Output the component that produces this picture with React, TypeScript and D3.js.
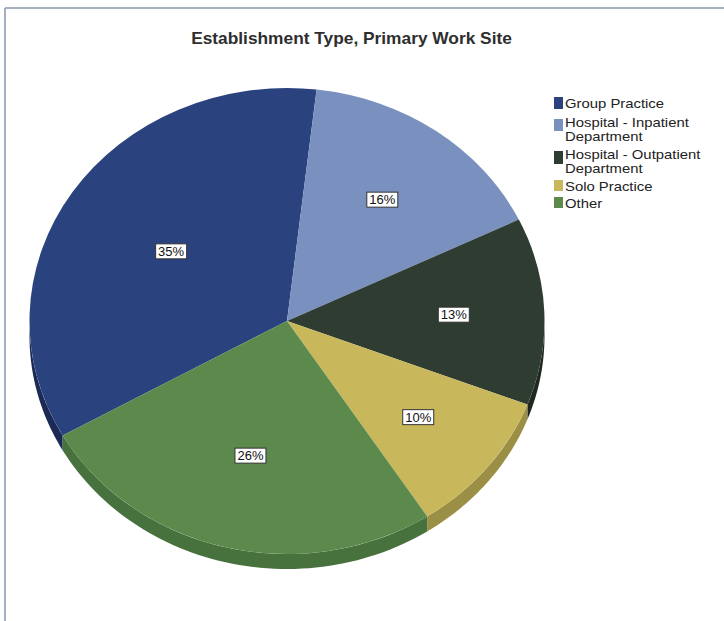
import React from "react";
import * as d3 from "d3";

const categories = [
  "Group Practice",
  "Hospital - Inpatient Department",
  "Hospital - Outpatient Department",
  "Solo Practice",
  "Other",
];
const values = [35, 16, 13, 10, 26];
const legendLines = [
  ["Group Practice"],
  ["Hospital - Inpatient", "Department"],
  ["Hospital - Outpatient", "Department"],
  ["Solo Practice"],
  ["Other"],
];
const topColors = ["#2a437f", "#7a91c0", "#2f3c31", "#c9b75c", "#5b8a4c"];
const sideColors = ["#1b2a55", "#5a6f98", "#1f2821", "#9a8f45", "#48723d"];
const title = "Establishment Type, Primary Work Site";

const W = 724;
const H = 621;
const cx = 287;
const cy = 321;
const rx = 257.5;
const ry = 233;
const depth = 15;
const startDeg = -119.4;

export default function App() {
  const total = d3.sum(values);
  const start = (startDeg * Math.PI) / 180;
  const pie = d3
    .pie<number>()
    .sort(null)
    .value((d) => d)
    .startAngle(start)
    .endAngle(start + 2 * Math.PI);
  const arcs = pie(values);
  const arcGen = d3.arc<d3.PieArcDatum<number>>().innerRadius(0).outerRadius(rx);

  const pt = (a: number, dy = 0): [number, number] => [
    cx + rx * Math.sin(a),
    cy - ry * Math.cos(a) + dy,
  ];
  const line = d3.line();

  const sides: { d: string; color: string }[] = [];
  arcs.forEach((a, i) => {
    for (const shift of [-2 * Math.PI, 0, 2 * Math.PI]) {
      const s = Math.max(a.startAngle + shift, Math.PI / 2);
      const e = Math.min(a.endAngle + shift, (3 * Math.PI) / 2);
      if (e > s) {
        const n = 60;
        const topPts: [number, number][] = d3.range(n + 1).map((k) => pt(s + ((e - s) * k) / n));
        const botPts: [number, number][] = d3
          .range(n + 1)
          .map((k) => pt(e - ((e - s) * k) / n, depth));
        sides.push({ d: line([...topPts, ...botPts])! + "Z", color: sideColors[i] });
      }
    }
  });

  // legend layout: [swatchTop, swatchHeight, firstBaseline]
  const legendPos = [
    [97, 12, 108],
    [119, 12, 127],
    [151, 13, 159],
    [180, 11, 190.5],
    [197, 11, 208],
  ];

  return (
    <svg
      width={W}
      height={H}
      style={{ position: "absolute", left: 0, top: 0, background: "#fff" }}
      fontFamily="'Liberation Sans', Arial, sans-serif"
    >
      <rect x={0} y={0} width={W} height={H} fill="#ffffff" />
      <line x1={5} y1={8} x2={W} y2={8} stroke="#8796ad" strokeWidth={1.5} />
      <line x1={5} y1={8} x2={5} y2={H} stroke="#8796ad" strokeWidth={1.5} />
      <g transform="translate(351.5,44) scale(1.05,1)">
        <text x={0} y={0} textAnchor="middle" fontSize={16.5} fontWeight="bold" fill="#2e2e2e">
          {title}
        </text>
      </g>
      {sides.map((s, i) => (
        <path key={"s" + i} d={s.d} fill={s.color} />
      ))}
      <g transform={`translate(${cx},${cy}) scale(1,${ry / rx})`}>
        {arcs.map((a, i) => (
          <path key={"a" + i} d={arcGen(a)!} fill={topColors[i]} />
        ))}
      </g>
      {arcs.map((a, i) => {
        const mid = (a.startAngle + a.endAngle) / 2;
        const alpha = a.endAngle - a.startAngle;
        const r = (4 * Math.sin(alpha / 2)) / (3 * alpha);
        const x = cx + rx * r * Math.sin(mid);
        const y = cy - ry * r * Math.cos(mid);
        const txt = `${Math.round((values[i] / total) * 100)}%`;
        return (
          <g key={"l" + i}>
            <rect
              x={x - 15.5}
              y={y - 7.5}
              width={31}
              height={15}
              fill="#ffffff"
              stroke="#333"
              strokeWidth={1}
            />
            <text x={x} y={y + 4.7} textAnchor="middle" fontSize={13} fill="#111">
              {txt}
            </text>
          </g>
        );
      })}
      {legendLines.map((lines, i) => {
        const [st, sh, b0] = legendPos[i];
        return (
          <g key={"lg" + i}>
            <rect x={554} y={st} width={9} height={sh} fill={topColors[i]} />
            {lines.map((t, j) => (
              <g key={j} transform={`translate(565,${b0 + j * 13.5}) scale(1.16,1)`}>
                <text x={0} y={0} fontSize={12.8} fill="#222">
                  {t}
                </text>
              </g>
            ))}
          </g>
        );
      })}
    </svg>
  );
}
